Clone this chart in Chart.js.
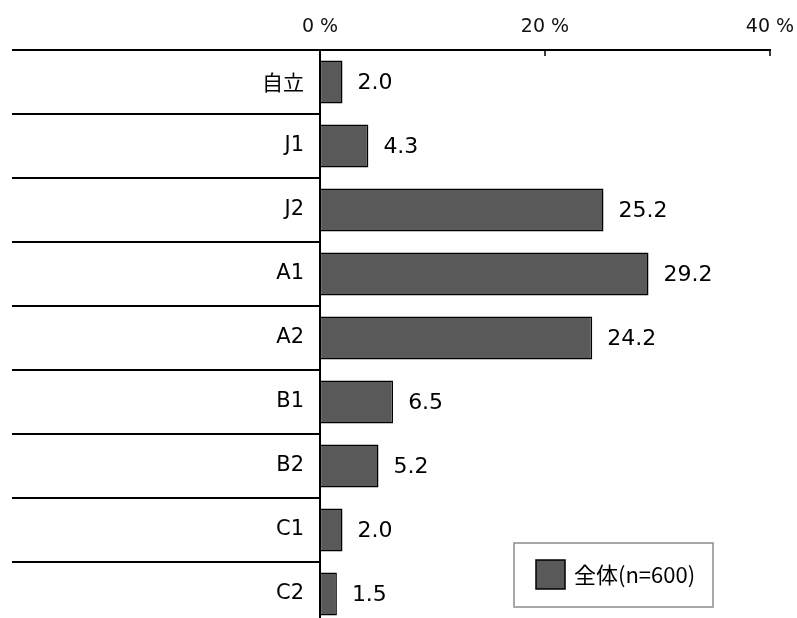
<!DOCTYPE html>
<html>
<head>
<meta charset="utf-8">
<script src="https://cdn.jsdelivr.net/npm/chart.js@4/dist/chart.umd.min.js"></script>
<style>
  html, body { margin: 0; padding: 0; background: #fff; overflow: hidden; }
</style>
</head>
<body>
<canvas id="myChart" width="797" height="640"></canvas>
<script>
const categories = ["自立", "J1", "J2", "A1", "A2", "B1", "B2", "C1", "C2"];
const values = [2.0, 4.3, 25.2, 29.2, 24.2, 6.5, 5.2, 2.0, 1.5];
const xTickValues = [0, 20, 40];
const seriesLabel = "全体(n=600)";

const barColor = "#595959";

// separators at the left, small inner ticks, value labels and the boxed legend
const extras = {
    id: "extras",
    afterDatasetsDraw(chart) {
        const ctx = chart.ctx;
        const area = chart.chartArea;
        const x = chart.scales.x;
        const y = chart.scales.y;
        const band = (y.getPixelForValue(1) - y.getPixelForValue(0));

        ctx.save();
        ctx.strokeStyle = "#000";
        ctx.lineWidth = 2;
        for (let i = 0; i < categories.length; i++) {
            const yy = Math.round(y.getPixelForValue(i) - band / 2);
            ctx.beginPath();
            ctx.moveTo(12, yy);
            ctx.lineTo(area.left, yy);
            ctx.stroke();
        }

        ctx.lineWidth = 1.5;
        xTickValues.forEach(v => {
            if (v === 0) return;
            const xx = x.getPixelForValue(v);
            ctx.beginPath();
            ctx.moveTo(xx, area.top);
            ctx.lineTo(xx, area.top + 6);
            ctx.stroke();
        });

        // value labels
        ctx.fillStyle = "#000";
        ctx.font = '22px "DejaVu Sans"';
        ctx.textAlign = "left";
        ctx.textBaseline = "middle";
        const meta = chart.getDatasetMeta(0);
        meta.data.forEach((bar, i) => {
            ctx.fillText(values[i].toFixed(1), bar.x + 15, bar.y + 1);
        });

        // legend
        const lx = area.right - 256, ly = area.top + 493, lw = 199, lh = 64;
        ctx.fillStyle = "#fff";
        ctx.fillRect(lx, ly, lw, lh);
        ctx.strokeStyle = "#8c8c8c";
        ctx.lineWidth = 1.5;
        ctx.strokeRect(lx, ly, lw, lh);
        ctx.fillStyle = barColor;
        ctx.fillRect(lx + 22, ly + 17, 29, 29);
        ctx.strokeStyle = "#000";
        ctx.lineWidth = 1.5;
        ctx.strokeRect(lx + 22, ly + 17, 29, 29);
        ctx.fillStyle = "#000";
        ctx.font = '22px "Noto Sans CJK JP"';
        ctx.fillText(chart.data.datasets[0].label, lx + 60, ly + 32);
        ctx.restore();
    }
};

const ctx = document.getElementById("myChart").getContext("2d");
const myChart = new Chart(ctx, {
    type: "bar",
    data: {
        labels: categories,
        datasets: [
            {
                label: seriesLabel,
                data: values,
                backgroundColor: barColor,
                borderColor: "#000",
                borderWidth: 1.5,
                borderSkipped: false,
                barPercentage: 0.67,
                categoryPercentage: 1.0,
            },
        ],
    },
    options: {
        indexAxis: "y",
        responsive: false,
        animation: false,
        layout: {
            padding: { left: 12, right: 27, top: 0, bottom: 14 },
        },
        plugins: {
            legend: { display: false },
            tooltip: { enabled: false },
        },
        scales: {
            x: {
                position: "top",
                min: 0,
                max: 40,
                afterBuildTicks: (scale) => {
                    scale.ticks = xTickValues.map(v => ({ value: v }));
                },
                afterFit: (scale) => {
                    scale.height = 50;
                    scale.paddingLeft = 0;
                    scale.paddingRight = 0;
                },
                grid: { display: false, drawTicks: false },
                border: { display: true, color: "#000", width: 2 },
                ticks: {
                    color: "#111",
                    padding: 12,
                    maxRotation: 0,
                    font: { family: "DejaVu Sans", size: 19 },
                    callback: (v) => v + " %",
                },
            },
            y: {
                afterFit: (scale) => {
                    scale.width = 308;
                    scale.paddingTop = 0;
                    scale.paddingBottom = 0;
                },
                grid: { display: false, drawTicks: false },
                border: { display: true, color: "#000", width: 2 },
                ticks: {
                    color: "#000",
                    padding: 16,
                    font: (c) => c.index === 0
                        ? { family: "Noto Sans CJK JP", size: 21 }
                        : { family: "DejaVu Sans", size: 21 },
                },
            },
        },
    },
    plugins: [extras],
});
</script>
</body>
</html>
